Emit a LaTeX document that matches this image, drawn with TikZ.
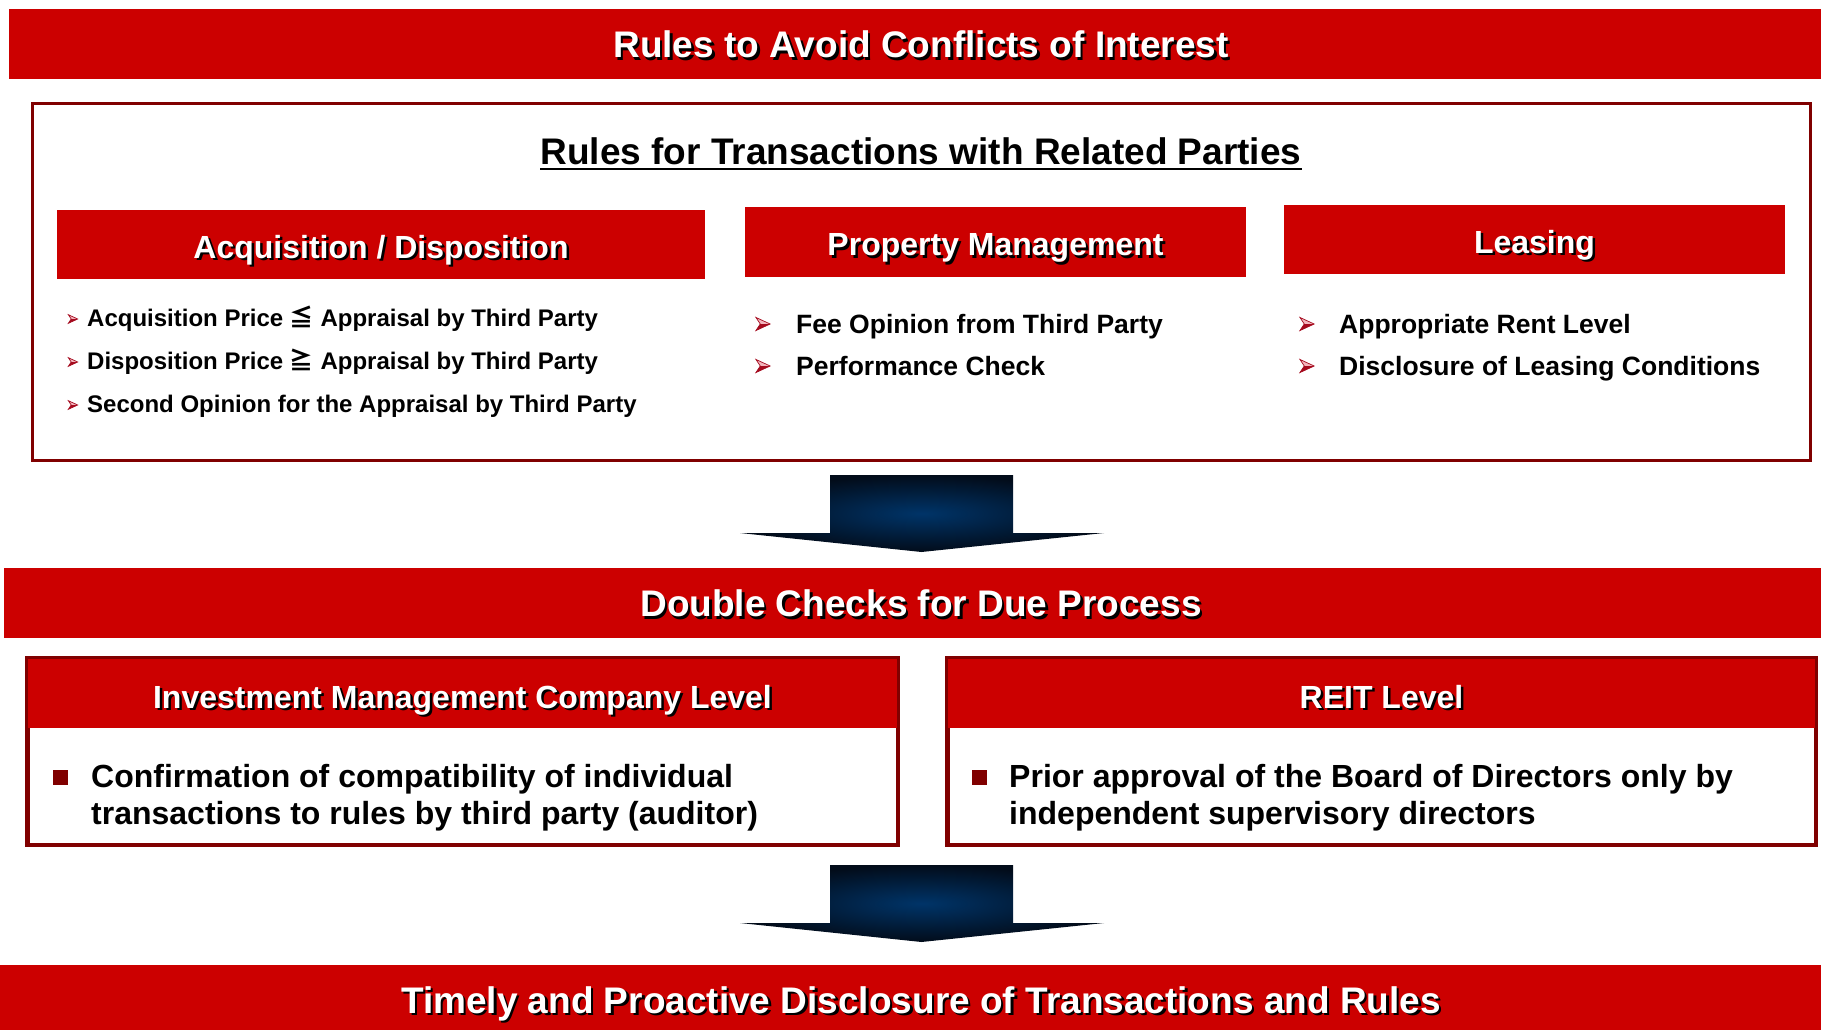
\documentclass[tikz,border=0pt]{standalone}
\usepackage{fontspec}
\setmainfont{Liberation Sans}
\newfontfamily\cjkfont{Noto Sans CJK JP}
\definecolor{bannerred}{RGB}{204,0,0}
\definecolor{borderred}{RGB}{128,0,0}
\definecolor{navymid}{RGB}{0,52,104}
\definecolor{navydark}{RGB}{2,12,26}
\definecolor{bulletdark}{RGB}{165,10,30}
\definecolor{bulletlight}{RGB}{242,180,188}
\definecolor{sqred}{RGB}{128,0,0}
\newcommand\shtext[1]{\leavevmode\rlap{\kern2.5pt\raisebox{-2.5pt}{\color{black}#1}}#1}
\newcommand\fsBig{\fontsize{37}{44}\selectfont}
\newcommand\fsHead{\fontsize{32}{38}\selectfont}
\newcommand\fsItem{\fontsize{26.5}{32}\selectfont}
\newcommand\fsSmall{\fontsize{24}{29}\selectfont}
\begin{document}
\begin{tikzpicture}[x=1pt,y=-1pt,
  banner/.style={fill=bannerred, inner sep=0pt, text=white, font=\bfseries\fsBig, text height=27.5pt, text depth=0pt},
  hdrbox/.style={fill=bannerred, inner sep=0pt, text=white, font=\bfseries\fsHead, text height=27.5pt, text depth=0pt},
  bigbox/.style={draw=borderred, line width=3pt, fill=white, inner sep=0pt},
  itemsmall/.style={anchor=base west, inner sep=0pt, font=\bfseries\fsSmall},
  itemmid/.style={anchor=base west, inner sep=0pt, font=\bfseries\fsItem},
  itembig/.style={anchor=base west, inner sep=0pt, font=\bfseries\fsHead},
  sqbullet/.style={fill=sqred, minimum size=15pt, inner sep=0pt},
  blockarrow/.style={inner color=navymid, outer color=navydark},
  barrow/.pic={
    \fill[bulletlight] (-6.5,-6) -- (6.5,0) -- (-2.5,0) -- cycle;
    \fill[bulletdark] (-6.5,6) -- (6.5,0) -- (-2.5,0) -- cycle;
    \draw[bulletdark, line width=0.7pt, line join=miter] (-6.5,-6) -- (6.5,0) -- (-6.5,6) -- (-2.5,0) -- cycle;
  }]
\useasboundingbox (0,0) rectangle (1821,1030);
\fill[white] (0,0) rectangle (1821,1030);

% top banner
\node[banner, minimum width=1824pt, minimum height=70pt] (top) at (921,44) {\shtext{Rules to Avoid Conflicts of Interest}};

% outer box
\node[bigbox, minimum width=1778pt, minimum height=356pt] (outer) at (921,282) {};
\node[anchor=base, inner sep=0pt, font=\bfseries\fsBig] (title) at (921,164.3) {Rules for Transactions with Related Parties};
\draw[line width=2.5pt] ([yshift=-4.5pt]title.base west) -- ([yshift=-4.5pt]title.base east);

% section headers
\node[hdrbox, minimum width=648pt, minimum height=69pt] (acq) at (381,244.5) {\shtext{Acquisition / Disposition}};
\node[hdrbox, minimum width=501pt, minimum height=70pt] (pm) at (995.5,242) {\shtext{Property Management}};
\node[hdrbox, minimum width=501pt, minimum height=69pt] (lease) at (1534.5,239.5) {\shtext{Leasing}};

% acquisition bullets
\pic[scale=0.72] at (73,319) {barrow};
\pic[scale=0.72] at (73,362) {barrow};
\pic[scale=0.72] at (73,405) {barrow};
\node[itemsmall] (acq1) at (87,326.6) {Acquisition Price {\cjkfont ≦} Appraisal by Third Party};
\node[itemsmall] (acq2) at (87,369.6) {Disposition Price {\cjkfont ≧} Appraisal by Third Party};
\node[itemsmall] (acq3) at (87,412.6) {Second Opinion for the Appraisal by Third Party};

% property management bullets
\pic[scale=1.1] at (763,324) {barrow};
\pic[scale=1.1] at (763,366) {barrow};
\node[itemmid] (pm1) at (796,333.5) {Fee Opinion from Third Party};
\node[itemmid] (pm2) at (796,375.5) {Performance Check};

% leasing bullets
\pic[scale=1.1] at (1307,324) {barrow};
\pic[scale=1.1] at (1307,366) {barrow};
\node[itemmid] (ls1) at (1339,333.5) {Appropriate Rent Level};
\node[itemmid] (ls2) at (1339,375.5) {Disclosure of Leasing Conditions};

% arrow 1
\shade[blockarrow] (830,475) -- (1013,475) -- (1013,533) -- (1104,533) -- (921.5,552) -- (740,533) -- (830,533) -- cycle;

% double checks banner
\node[banner, minimum width=1834pt, minimum height=70pt] (dbl) at (921,603) {\shtext{Double Checks for Due Process}};

% IMC box
\node[bigbox, minimum width=869pt, minimum height=185pt] (imc) at (462.5,751.5) {};
\node[hdrbox, text height=31pt, minimum width=869pt, minimum height=70pt, anchor=north] (imch) at (imc.north) {\shtext{Investment Management Company Level}};
\draw[borderred, line width=3pt] (imc.north west) rectangle (imc.south east);
\node[sqbullet] (sq1) at (60.5,777) {};
\node[itembig] (imc1) at (91,787.5) {Confirmation of compatibility of individual};
\node[itembig] (imc2) at (91,824.5) {transactions to rules by third party (auditor)};

% REIT box
\node[bigbox, minimum width=867pt, minimum height=185pt] (reit) at (1381.5,751.5) {};
\node[hdrbox, text height=31pt, minimum width=867pt, minimum height=70pt, anchor=north] (reith) at (reit.north) {\shtext{REIT Level}};
\draw[borderred, line width=3pt] (reit.north west) rectangle (reit.south east);
\node[sqbullet] (sq2) at (979.5,777) {};
\node[itembig] (reit1) at (1009,787.5) {Prior approval of the Board of Directors only by};
\node[itembig] (reit2) at (1009,824.5) {independent supervisory directors};

% arrow 2
\shade[blockarrow] (830,865) -- (1013,865) -- (1013,923) -- (1104,923) -- (921.5,942) -- (740,923) -- (830,923) -- cycle;

% bottom banner
\node[banner, text height=26pt, minimum width=1842pt, minimum height=70pt] (bottom) at (921,1000) {\shtext{Timely and Proactive Disclosure of Transactions and Rules}};
\end{tikzpicture}
\end{document}
